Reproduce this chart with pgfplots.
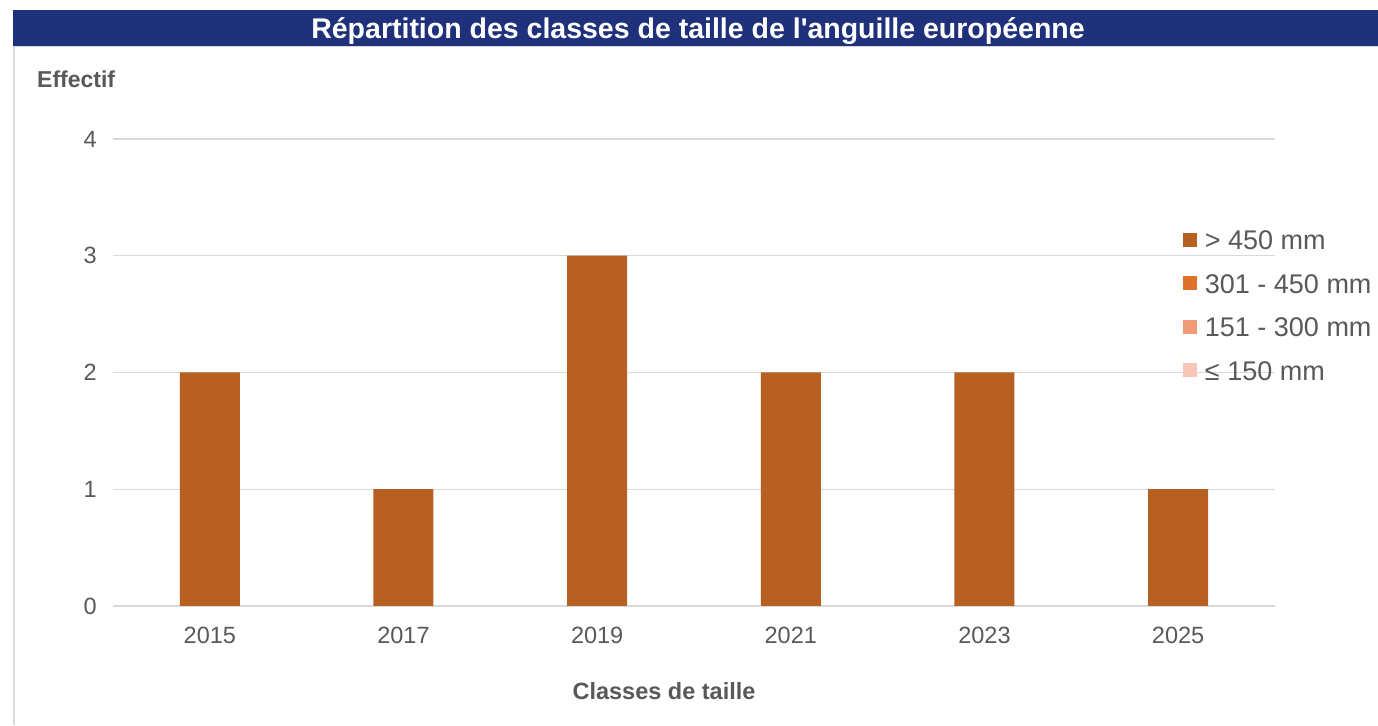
\documentclass[border=0pt]{standalone}
\usepackage{fontspec}
\setmainfont{Liberation Sans}
\newfontfamily\titlefont{Liberation Sans}
\usepackage{pgfplots}
\pgfplotsset{compat=1.18}
\definecolor{titleblue}{HTML}{1F317A}
\definecolor{txt}{HTML}{595959}
\definecolor{gridc}{HTML}{D9D9D9}
\definecolor{cA}{HTML}{B85F22}
\definecolor{cB}{HTML}{E07128}
\definecolor{cC}{HTML}{F09A78}
\definecolor{cD}{HTML}{F7C6B6}
\begin{document}
\begin{tikzpicture}[x=1bp,y=1bp]
\useasboundingbox (0,0) rectangle (1378,725);
\fill[white] (0,0) rectangle (1378,725);
\fill[titleblue] (13,679) rectangle (1378,715);
\draw[gridc, line width=1.5bp] (14,0) -- (14,679);
\draw[gridc, line width=1.2bp] (14,678.4) -- (1378,678.4);
\node[anchor=base, text=white, inner sep=0pt, font=\titlefont\fontsize{28.5bp}{34bp}\selectfont\bfseries] at (698,686.5) {Répartition des classes de taille de l'anguille européenne};
\node[anchor=base west, text=txt, inner sep=0pt, font=\fontsize{23bp}{28bp}\selectfont\bfseries] at (37,637) {Effectif};
\node[anchor=base, text=txt, inner sep=0pt, font=\fontsize{23.5bp}{28bp}\selectfont\bfseries] at (664,26) {Classes de taille};
\begin{axis}[
  at={(113bp,119bp)}, anchor=south west,
  scale only axis, width=1162bp, height=467bp,
  ybar stacked, bar width=60bp,
  xmin=-0.5, xmax=5.5, ymin=0, ymax=4,
  xtick={0,1,2,3,4,5},
  xticklabels={2015,2017,2019,2021,2023,2025},
  ytick={0,1,2,3,4},
  axis line style={draw=none},
  major tick length=0pt,
  ymajorgrids, grid style={gridc, line width=1.3bp},
  tick label style={text=txt, font=\fontsize{23.5bp}{28bp}\selectfont, inner sep=0pt},
  /pgf/number format/assume math mode=true,
  yticklabel style={anchor=east, xshift=-16bp},
  xticklabel style={anchor=north, yshift=-21bp},
  reverse legend,
  legend cell align=left,
  legend style={draw=none, fill=none, inner sep=0pt, outer sep=0pt,
    anchor=west, at={(0.9208,0.6445)},
    font=\fontsize{27bp}{32bp}\selectfont, text=txt,
    nodes={inner sep=0pt, text height=20bp, text depth=0bp},
    row sep=23.5bp,
    /tikz/every odd column/.append style={column sep=8bp}},
  legend image code/.code={\fill[#1] (0bp,-7bp) rectangle (14bp,7bp);},
]
\addplot[fill=cD, draw=none] coordinates {(0,0) (1,0) (2,0) (3,0) (4,0) (5,0)};
\addlegendentry{≤ 150 mm}
\addplot[fill=cC, draw=none] coordinates {(0,0) (1,0) (2,0) (3,0) (4,0) (5,0)};
\addlegendentry{151 - 300 mm}
\addplot[fill=cB, draw=none] coordinates {(0,0) (1,0) (2,0) (3,0) (4,0) (5,0)};
\addlegendentry{301 - 450 mm}
\addplot[fill=cA, draw=none] coordinates {(0,2) (1,1) (2,3) (3,2) (4,2) (5,1)};
\addlegendentry{> 450 mm}
\end{axis}
\end{tikzpicture}
\end{document}
